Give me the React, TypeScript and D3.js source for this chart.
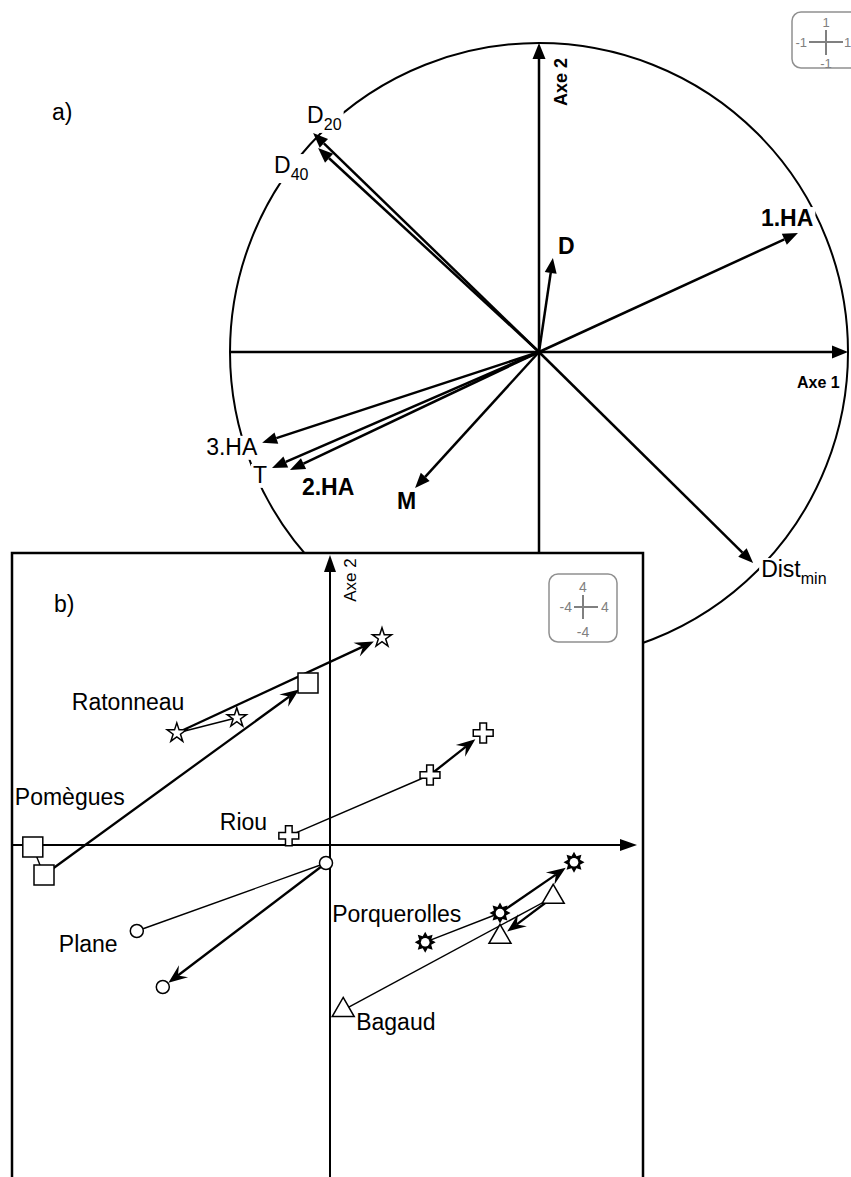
import React, { useEffect, useRef } from 'react';
import * as d3 from 'd3';

const W = 851;
const H = 1177;
const FONT = 'Liberation Sans, Arial, Helvetica, sans-serif';

// panel a) correlation circle: coordinates of each variable on Axe 1 / Axe 2
const varNames = ['D20', 'D40', 'D', '1.HA', '3.HA', 'T', '2.HA', 'M', 'Distmin'];
const varMain = ['D', 'D', 'D', '1.HA', '3.HA', 'T', '2.HA', 'M', 'Dist'];
const varSub = ['20', '40', '', '', '', '', '', '', 'min'];
const varAxe1 = [-0.731, -0.715, 0.045, 0.838, -0.896, -0.864, -0.806, -0.401, 0.693];
const varAxe2 = [0.709, 0.66, 0.304, 0.385, -0.294, -0.375, -0.382, -0.44, -0.683];
const varBold = [false, false, true, true, false, false, true, true, false];

// panel b) trajectories of the sites (three dates)
const sites = ['Ratonneau', 'Pomègues', 'Riou', 'Plane', 'Porquerolles', 'Bagaud'];
const siteSymbols = ['star', 'square', 'cross', 'circle', 'sun', 'triangle'];
const siteAxe1 = [
  [-2.33, -3.83, 1.3],
  [-7.43, -7.15, -0.55],
  [-1.03, 2.5, 3.83],
  [-4.83, -0.1, -4.18],
  [2.38, 4.25, 6.1],
  [0.33, 5.58, 4.25],
];
const siteAxe2 = [
  [3.18, 2.8, 5.18],
  [-0.05, -0.75, 4.05],
  [0.23, 1.75, 2.8],
  [-2.15, -0.45, -3.55],
  [-2.43, -1.7, -0.43],
  [-4.13, -1.3, -2.3],
];

// label placement (px offsets)
const varLabelOffset: Record<string, [number, number]> = {
  D20: [-6, -10],
  D40: [-44, 25],
  D: [5, -4],
  '1.HA': [-37, -7],
  '3.HA': [-56, 12],
  T: [-19, 15],
  '2.HA': [12, 25],
  M: [-18, 21],
  Distmin: [8, 14],
};
const siteLabelOffset: Record<string, [number, number]> = {
  Ratonneau: [-165, -8],
  'Pomègues': [-18, -42],
  Riou: [-69, -6],
  Plane: [-78, 21],
  Porquerolles: [-93, -20],
  Bagaud: [13, 20],
};

function head(tip: number[], from: number[], len: number, half: number, notch: number) {
  const dx = tip[0] - from[0];
  const dy = tip[1] - from[1];
  const d = Math.hypot(dx, dy);
  const ux = dx / d, uy = dy / d;
  const bx = tip[0] - ux * len, by = tip[1] - uy * len;
  const nx = -uy, ny = ux;
  const p = d3.path();
  p.moveTo(tip[0], tip[1]);
  p.lineTo(bx + nx * half, by + ny * half);
  p.lineTo(tip[0] - ux * notch, tip[1] - uy * notch);
  p.lineTo(bx - nx * half, by - ny * half);
  p.closePath();
  return { path: p.toString(), base: [tip[0] - ux * notch, tip[1] - uy * notch] };
}

function sunPath() {
  const pts: [number, number][] = [];
  for (let i = 0; i < 16; i++) {
    const a = (i * Math.PI) / 8 - Math.PI / 2;
    const r = i % 2 === 0 ? 10.5 : 6.5;
    pts.push([Math.cos(a) * r, Math.sin(a) * r]);
  }
  return d3.line()(pts) + 'Z';
}

const Chart = () => {
  const ref = useRef<SVGSVGElement>(null);

  useEffect(() => {
    const svg = d3.select(ref.current);
    svg.selectAll('*').remove();

    // ---------- panel a ----------
    const xA = d3.scaleLinear().domain([-1, 1]).range([230, 848]);
    const yA = d3.scaleLinear().domain([-1, 1]).range([661, 43]);
    const cx = xA(0), cy = yA(0);
    const R = xA(1) - xA(0);

    const gA = svg.append('g');
    gA.append('circle')
      .attr('cx', cx).attr('cy', cy).attr('r', R)
      .attr('fill', 'none').attr('stroke', '#000').attr('stroke-width', 2);
    const bgA = gA.append('g');
    const axA = gA.append('g');
    const vecA = gA.append('g');
    const labA = gA.append('g');

    // axes
    const ax1 = head([xA(1), cy], [xA(-1), cy], 16, 6.5, 16);
    axA.append('line').attr('x1', xA(-1)).attr('y1', cy).attr('x2', ax1.base[0]).attr('y2', cy)
      .attr('stroke', '#000').attr('stroke-width', 2.5);
    axA.append('path').attr('d', ax1.path).attr('fill', '#000');
    const ax2 = head([cx, yA(1)], [cx, yA(-1)], 16, 6.5, 16);
    axA.append('line').attr('x1', cx).attr('y1', yA(-1)).attr('x2', cx).attr('y2', ax2.base[1])
      .attr('stroke', '#000').attr('stroke-width', 2.5);
    axA.append('path').attr('d', ax2.path).attr('fill', '#000');

    axA.append('text').text('Axe 1')
      .attr('x', 797).attr('y', 388)
      .attr('font-family', FONT).attr('font-size', 16).attr('font-weight', 'bold');
    axA.append('text').text('Axe 2')
      .attr('transform', `translate(567, 82) rotate(-90)`)
      .attr('text-anchor', 'middle')
      .attr('font-family', FONT).attr('font-size', 18).attr('font-weight', 'bold');

    varNames.forEach((name, i) => {
      const tip = [xA(varAxe1[i]), yA(varAxe2[i])];
      const h = head(tip, [cx, cy], 15, 6, 15);
      vecA.append('line')
        .attr('x1', cx).attr('y1', cy).attr('x2', h.base[0]).attr('y2', h.base[1])
        .attr('stroke', '#000').attr('stroke-width', 2.5);
      vecA.append('path').attr('d', h.path).attr('fill', '#000');

      const off = varLabelOffset[name];
      const t = labA.append('text')
        .attr('x', tip[0] + off[0]).attr('y', tip[1] + off[1])
        .attr('font-family', FONT).attr('font-size', 23)
        .attr('font-weight', varBold[i] ? 'bold' : 'normal');
      t.append('tspan').text(varMain[i]);
      if (varSub[i]) t.append('tspan').text(varSub[i]).attr('font-size', 16).attr('dy', 7);
      const bb = (t.node() as SVGTextElement).getBBox();
      bgA.append('rect')
        .attr('x', bb.x - 2).attr('y', bb.y + 2).attr('width', bb.width + 4).attr('height', bb.height - 2)
        .attr('fill', '#fff');
    });

    // scale box a
    const sa = svg.append('g').attr('font-family', FONT).attr('font-size', 13).attr('fill', '#808080');
    sa.append('rect').attr('x', 792).attr('y', 12).attr('width', 80).attr('height', 56).attr('rx', 9)
      .attr('fill', '#fff').attr('stroke', '#909090').attr('stroke-width', 1.5);
    sa.append('line').attr('x1', 809).attr('x2', 843).attr('y1', 42).attr('y2', 42)
      .attr('stroke', '#808080').attr('stroke-width', 2);
    sa.append('line').attr('x1', 826).attr('x2', 826).attr('y1', 30).attr('y2', 55)
      .attr('stroke', '#808080').attr('stroke-width', 2);
    sa.append('text').text('1').attr('x', 826).attr('y', 27).attr('text-anchor', 'middle');
    sa.append('text').text('-1').attr('x', 807).attr('y', 47).attr('text-anchor', 'end');
    sa.append('text').text('1').attr('x', 844).attr('y', 47);
    sa.append('text').text('-1').attr('x', 826).attr('y', 68).attr('text-anchor', 'middle');

    // ---------- panel b ----------
    const xB = d3.scaleLinear().domain([-8, 8]).range([10, 650]);
    const yB = d3.scaleLinear().domain([-8, 8]).range([1165, 525]);
    const ox = xB(0), oy = yB(0);

    const gB = svg.append('g');
    gB.append('rect').attr('x', 12).attr('y', 553).attr('width', 631).attr('height', 700)
      .attr('fill', '#fff').attr('stroke', '#000').attr('stroke-width', 2.5);

    const bx1 = head([637, oy], [12, oy], 17, 6, 17);
    gB.append('line').attr('x1', 12).attr('y1', oy).attr('x2', bx1.base[0]).attr('y2', oy)
      .attr('stroke', '#000').attr('stroke-width', 2);
    gB.append('path').attr('d', bx1.path).attr('fill', '#000');
    const bx2 = head([ox, 555], [ox, 1177], 17, 6, 17);
    gB.append('line').attr('x1', ox).attr('y1', 1177).attr('x2', ox).attr('y2', bx2.base[1])
      .attr('stroke', '#000').attr('stroke-width', 2);
    gB.append('path').attr('d', bx2.path).attr('fill', '#000');
    gB.append('text').text('Axe 2')
      .attr('transform', `translate(356, 580) rotate(-90)`)
      .attr('text-anchor', 'middle')
      .attr('font-family', FONT).attr('font-size', 17);

    gB.append('text').text('a)').attr('x', 52).attr('y', 120)
      .attr('font-family', FONT).attr('font-size', 23);
    gB.append('text').text('b)').attr('x', 54).attr('y', 612)
      .attr('font-family', FONT).attr('font-size', 23);

    const lines = gB.append('g');
    const marks = gB.append('g');
    const symbolOf: Record<string, any> = {
      star: d3.symbol(d3.symbolStar, 115)(),
      square: d3.symbol(d3.symbolSquare, 400)(),
      cross: d3.symbol(d3.symbolCross, 220)(),
      circle: d3.symbol(d3.symbolCircle, 133)(),
      triangle: d3.symbol(d3.symbolTriangle, 210)(),
      sun: sunPath(),
    };
    const markRadius: Record<string, number> = {
      star: 9, square: 11, cross: 10, circle: 7, triangle: 9, sun: 10,
    };

    sites.forEach((site, i) => {
      const p = siteAxe1[i].map((v, j) => [xB(v), yB(siteAxe2[i][j])]);
      const sym = siteSymbols[i];
      // first interval: thin line
      lines.append('line')
        .attr('x1', p[0][0]).attr('y1', p[0][1]).attr('x2', p[1][0]).attr('y2', p[1][1])
        .attr('stroke', '#000').attr('stroke-width', 1.4);
      // second interval: thick arrow
      const dx = p[2][0] - p[1][0], dy = p[2][1] - p[1][1];
      const d = Math.hypot(dx, dy);
      const r = markRadius[sym];
      const tip = [p[2][0] - (dx / d) * r, p[2][1] - (dy / d) * r];
      const h = head(tip, p[1], 19, 7.5, 12);
      lines.append('line')
        .attr('x1', p[1][0]).attr('y1', p[1][1]).attr('x2', h.base[0]).attr('y2', h.base[1])
        .attr('stroke', '#000').attr('stroke-width', 2.3);
      lines.append('path').attr('d', h.path).attr('fill', '#000');

      p.forEach((q) => {
        const g = marks.append('g').attr('transform', `translate(${q[0]},${q[1]})`);
        if (sym === 'sun') {
          g.append('path').attr('d', symbolOf.sun).attr('fill', '#000');
          g.append('circle').attr('r', 4.3).attr('fill', '#fff');
        } else {
          g.append('path').attr('d', symbolOf[sym])
            .attr('fill', '#fff').attr('stroke', '#000').attr('stroke-width', 1.5);
        }
      });

      const off = siteLabelOffset[site];
      gB.append('text').text(site)
        .attr('x', p[0][0] + off[0]).attr('y', p[0][1] + off[1])
        .attr('font-family', FONT).attr('font-size', 23);
    });

    // scale box b
    const sb = svg.append('g').attr('font-family', FONT).attr('font-size', 14).attr('fill', '#808080');
    sb.append('rect').attr('x', 549).attr('y', 574).attr('width', 68).attr('height', 68).attr('rx', 9)
      .attr('fill', '#fff').attr('stroke', '#909090').attr('stroke-width', 1.5);
    sb.append('line').attr('x1', 574).attr('x2', 598).attr('y1', 607).attr('y2', 607)
      .attr('stroke', '#808080').attr('stroke-width', 2);
    sb.append('line').attr('x1', 583).attr('x2', 583).attr('y1', 595).attr('y2', 619)
      .attr('stroke', '#808080').attr('stroke-width', 2);
    sb.append('text').text('4').attr('x', 583).attr('y', 592).attr('text-anchor', 'middle');
    sb.append('text').text('-4').attr('x', 572).attr('y', 612).attr('text-anchor', 'end');
    sb.append('text').text('4').attr('x', 601).attr('y', 612);
    sb.append('text').text('-4').attr('x', 583).attr('y', 637).attr('text-anchor', 'middle');
  }, []);

  return (
    <svg
      ref={ref}
      width={W}
      height={H}
      style={{ position: 'absolute', left: 0, top: 0, background: '#fff' }}
    />
  );
};

export default function App() {
  return <Chart />;
}
